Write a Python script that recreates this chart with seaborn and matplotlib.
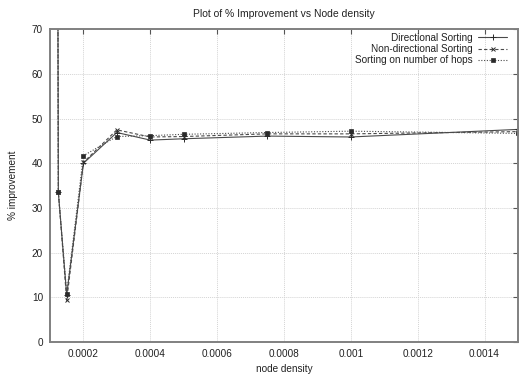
import matplotlib
matplotlib.use("Agg")
import matplotlib.pyplot as plt
import numpy as np
import pandas as pd
import seaborn as sns

# Node density values (nodes per unit area) and % improvement per sorting method
density = [0.0001, 0.000125, 0.00015, 0.0002, 0.0003, 0.0004, 0.0005, 0.00075, 0.001, 0.0015]
directional = [880.0, 33.5, 10.5, 40.0, 46.9, 45.2, 45.5, 46.1, 45.9, 47.6]
non_directional = [870.0, 33.5, 9.3, 40.2, 47.5, 45.9, 46.0, 46.6, 46.6, 47.1]
hops = [860.0, 33.5, 10.8, 41.7, 46.0, 46.2, 46.5, 46.9, 47.2, 46.7]

series_names = ["Directional Sorting", "Non-directional Sorting", "Sorting on number of hops"]
x_ticks = [0.0002, 0.0004, 0.0006, 0.0008, 0.001, 0.0012, 0.0014]
x_tick_labels = ["0.0002", "0.0004", "0.0006", "0.0008", "0.001", "0.0012", "0.0014"]
y_ticks = [0, 10, 20, 30, 40, 50, 60, 70]

df = pd.DataFrame({
    "node density": density * 3,
    "% improvement": directional + non_directional + hops,
    "method": [series_names[0]] * len(density)
    + [series_names[1]] * len(density)
    + [series_names[2]] * len(density),
})

sns.set_theme(style="white")
plt.rcParams["font.family"] = ["Liberation Sans", "DejaVu Sans"]
plt.rcParams["font.size"] = 7

fig = plt.figure(figsize=(5.19, 3.77), dpi=100)
ax = fig.add_axes([0.0963, 0.0936, 0.9017, 0.8282])

styles = {
    series_names[0]: dict(marker="+", linestyle="-", markersize=4.5, mew=0.7),
    series_names[1]: dict(marker="x", linestyle=(0, (3, 2)), markersize=3.5, mew=0.7),
    series_names[2]: dict(marker="s", linestyle=(0, (1, 1.5)), markersize=2.6, mew=0.5),
}
line_color = "#4a4a4a"

for name in series_names:
    sub = df[df["method"] == name]
    st = styles[name]
    sns.lineplot(
        data=sub, x="node density", y="% improvement", ax=ax,
        color=line_color, linewidth=0.8, marker=st["marker"],
        markersize=st["markersize"], markeredgewidth=st["mew"],
        markeredgecolor="#2a2a2a", markerfacecolor="#2a2a2a",
        linestyle=st["linestyle"], label=name, estimator=None, sort=False,
    )

ax.set_xlim(0.0001, 0.0015)
ax.set_ylim(0, 70)
ax.set_xticks(x_ticks)
ax.set_xticklabels(x_tick_labels)
ax.set_yticks(y_ticks)

ax.grid(True, color="#d4d4d4", linestyle=(0, (1, 1)), linewidth=0.7)
for side in ["left", "bottom", "top", "right"]:
    ax.spines[side].set_color("#808080")
    ax.spines[side].set_linewidth(1.4)
ax.tick_params(direction="in", length=3.5, width=0.8, color="#555555",
               top=True, right=True, labelsize=7.2, pad=5, labelcolor="#222222")

ax.set_title("Plot of % Improvement vs Node density", fontsize=7.5, pad=9, color="#222222")
ax.set_xlabel("node density", fontsize=7.2, labelpad=4, color="#222222")
ax.set_ylabel("% improvement", fontsize=7.2, labelpad=10, color="#222222")

leg = ax.legend(loc="upper right", bbox_to_anchor=(0.99, 1.008), frameon=False,
                markerfirst=False, fontsize=7.2, handlelength=2.9, handletextpad=0.6,
                labelspacing=0.12, borderaxespad=0.2)
for t in leg.get_texts():
    t.set_ha("right")
    t.set_color("#222222")
leg._legend_box.align = "right"

fig.savefig("out.png", dpi=100)
